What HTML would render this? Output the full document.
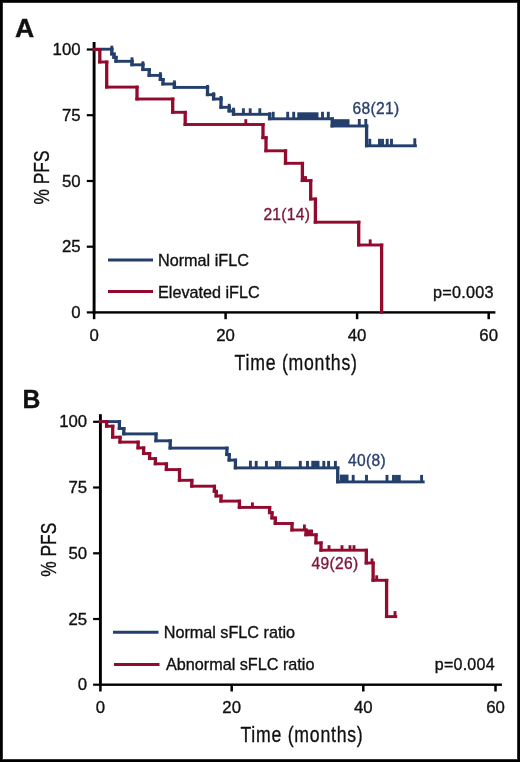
<!DOCTYPE html>
<html><head><meta charset="utf-8"><style>
html,body{margin:0;padding:0;background:#fff;}
body{width:520px;height:762px;overflow:hidden;position:relative;}
.frame{position:absolute;left:0;top:0;width:516px;height:758px;border:2px solid #000;box-shadow:inset 0 0 0 1px #333;background:#fff;}
svg{position:absolute;left:0;top:0;will-change:transform;}
text{font-family:"Liberation Sans", sans-serif;stroke-width:0.35px;}
</style></head><body>
<div class="frame"></div>
<svg width="520" height="762" viewBox="0 0 520 762">
<g fill="#000">
<rect x="92.65" y="42.00" width="2.90" height="271.60"/>
<rect x="92.65" y="311.20" width="402.75" height="2.40"/>
<rect x="86.80" y="48.40" width="7.30" height="2.20"/>
<rect x="86.80" y="114.10" width="7.30" height="2.20"/>
<rect x="86.80" y="179.90" width="7.30" height="2.20"/>
<rect x="86.80" y="245.60" width="7.30" height="2.20"/>
<rect x="86.80" y="311.30" width="7.30" height="2.20"/>
<rect x="92.85" y="312.40" width="2.50" height="6.80"/>
<rect x="224.35" y="312.40" width="2.50" height="6.80"/>
<rect x="355.85" y="312.40" width="2.50" height="6.80"/>
<rect x="487.45" y="312.40" width="2.50" height="6.80"/>
</g>
<g fill="#000">
<rect x="98.95" y="414.20" width="2.90" height="271.70"/>
<rect x="98.95" y="683.50" width="402.95" height="2.40"/>
<rect x="93.10" y="420.70" width="7.30" height="2.20"/>
<rect x="93.10" y="486.40" width="7.30" height="2.20"/>
<rect x="93.10" y="552.20" width="7.30" height="2.20"/>
<rect x="93.10" y="617.90" width="7.30" height="2.20"/>
<rect x="93.10" y="683.60" width="7.30" height="2.20"/>
<rect x="99.15" y="684.70" width="2.50" height="6.80"/>
<rect x="230.45" y="684.70" width="2.50" height="6.80"/>
<rect x="362.05" y="684.70" width="2.50" height="6.80"/>
<rect x="494.25" y="684.70" width="2.50" height="6.80"/>
</g>
<line x1="108" y1="260" x2="153" y2="260" stroke="#243f6c" stroke-width="3.0"/>
<line x1="108" y1="291.5" x2="153" y2="291.5" stroke="#920b2e" stroke-width="3.0"/>
<line x1="113" y1="632.3" x2="158.5" y2="632.3" stroke="#243f6c" stroke-width="3.0"/>
<line x1="114" y1="664.6" x2="159.5" y2="664.6" stroke="#920b2e" stroke-width="3.0"/>
<g fill="#243f6c">
<rect x="92.45" y="47.75" width="21.00" height="2.90"/><rect x="110.15" y="47.75" width="3.30" height="7.70"/><rect x="110.15" y="52.55" width="5.50" height="2.90"/><rect x="112.35" y="52.55" width="3.30" height="6.20"/><rect x="112.35" y="55.85" width="5.30" height="2.90"/><rect x="114.35" y="55.85" width="3.30" height="6.90"/><rect x="114.35" y="59.85" width="19.30" height="2.90"/><rect x="130.35" y="59.85" width="3.30" height="6.40"/><rect x="130.35" y="63.35" width="14.20" height="2.90"/><rect x="141.25" y="63.35" width="3.30" height="7.70"/><rect x="141.25" y="68.15" width="9.60" height="2.90"/><rect x="147.55" y="68.15" width="3.30" height="8.70"/><rect x="147.55" y="73.95" width="14.50" height="2.90"/><rect x="158.75" y="73.95" width="3.30" height="7.00"/><rect x="158.75" y="78.05" width="5.90" height="2.90"/><rect x="161.35" y="78.05" width="3.30" height="7.40"/><rect x="161.35" y="82.55" width="14.70" height="2.90"/><rect x="172.75" y="82.55" width="3.30" height="6.30"/><rect x="172.75" y="85.95" width="36.40" height="2.90"/><rect x="205.85" y="85.95" width="3.30" height="10.20"/><rect x="205.85" y="93.25" width="9.40" height="2.90"/><rect x="211.95" y="93.25" width="3.30" height="7.20"/><rect x="211.95" y="97.55" width="10.70" height="2.90"/><rect x="219.35" y="97.55" width="3.30" height="11.20"/><rect x="219.35" y="105.85" width="11.50" height="2.90"/><rect x="227.55" y="105.85" width="3.30" height="6.60"/><rect x="227.55" y="109.55" width="7.60" height="2.90"/><rect x="231.85" y="109.55" width="3.30" height="6.20"/><rect x="231.85" y="112.85" width="39.40" height="2.90"/><rect x="267.95" y="112.85" width="3.30" height="7.40"/><rect x="267.95" y="117.35" width="65.90" height="2.90"/><rect x="330.55" y="117.35" width="3.30" height="10.10"/><rect x="330.55" y="124.55" width="37.70" height="2.90"/><rect x="364.95" y="124.55" width="3.30" height="22.70"/><rect x="364.95" y="144.35" width="51.90" height="2.90"/>
<rect x="110.35" y="45.70" width="2.90" height="3.50"/><rect x="130.55" y="57.30" width="2.90" height="4.00"/><rect x="141.45" y="61.30" width="2.90" height="3.50"/><rect x="158.95" y="72.20" width="2.90" height="3.20"/><rect x="172.95" y="80.40" width="2.90" height="3.60"/><rect x="206.05" y="84.90" width="2.90" height="2.50"/><rect x="212.15" y="92.20" width="2.90" height="2.50"/><rect x="219.55" y="96.00" width="2.90" height="3.00"/><rect x="227.75" y="103.80" width="2.90" height="3.50"/><rect x="232.05" y="107.70" width="2.90" height="3.30"/><rect x="241.95" y="108.30" width="2.90" height="6.00"/><rect x="248.75" y="108.30" width="2.90" height="6.00"/><rect x="258.35" y="108.30" width="2.90" height="6.00"/><rect x="268.15" y="112.30" width="2.90" height="2.00"/><rect x="271.75" y="111.80" width="2.90" height="7.00"/><rect x="286.25" y="111.80" width="2.90" height="7.00"/><rect x="292.25" y="111.80" width="2.90" height="7.00"/><rect x="321.05" y="111.80" width="2.90" height="7.00"/><rect x="326.85" y="111.80" width="2.90" height="7.00"/><rect x="357.85" y="119.00" width="2.90" height="7.00"/><rect x="364.35" y="119.00" width="2.90" height="7.00"/><rect x="368.35" y="138.80" width="2.90" height="7.00"/><rect x="378.05" y="138.80" width="2.90" height="7.00"/><rect x="381.05" y="138.80" width="2.90" height="7.00"/><rect x="385.75" y="138.80" width="2.90" height="7.00"/><rect x="390.05" y="138.80" width="2.90" height="7.00"/><rect x="413.35" y="138.30" width="2.90" height="7.50"/>
<rect x="297.3" y="112.3" width="21.2" height="6.5" fill="#243f6c"/>
<rect x="332.2" y="119.2" width="17.3" height="6.8" fill="#243f6c"/>
</g>
<g fill="#920b2e">
<rect x="92.45" y="48.15" width="9.00" height="2.90"/><rect x="98.15" y="48.15" width="3.30" height="15.30"/><rect x="98.15" y="60.55" width="10.20" height="2.90"/><rect x="105.05" y="60.55" width="3.30" height="28.00"/><rect x="105.05" y="85.65" width="33.60" height="2.90"/><rect x="135.35" y="85.65" width="3.30" height="14.80"/><rect x="135.35" y="97.55" width="39.00" height="2.90"/><rect x="171.05" y="97.55" width="3.30" height="16.20"/><rect x="171.05" y="110.85" width="15.80" height="2.90"/><rect x="183.55" y="110.85" width="3.30" height="15.10"/><rect x="183.55" y="123.05" width="81.10" height="2.90"/><rect x="261.35" y="123.05" width="3.30" height="16.10"/><rect x="261.35" y="136.25" width="6.30" height="2.90"/><rect x="264.35" y="136.25" width="3.30" height="16.00"/><rect x="264.35" y="149.35" width="22.80" height="2.90"/><rect x="283.85" y="149.35" width="3.30" height="15.40"/><rect x="283.85" y="161.85" width="20.20" height="2.90"/><rect x="300.75" y="161.85" width="3.30" height="20.20"/><rect x="300.75" y="179.15" width="11.60" height="2.90"/><rect x="309.05" y="179.15" width="3.30" height="21.30"/><rect x="309.05" y="197.55" width="8.00" height="2.90"/><rect x="313.75" y="197.55" width="3.30" height="26.10"/><rect x="313.75" y="220.75" width="46.60" height="2.90"/><rect x="357.05" y="220.75" width="3.30" height="25.70"/><rect x="357.05" y="243.55" width="26.20" height="2.90"/><rect x="379.95" y="243.55" width="3.30" height="70.30"/>
<rect x="244.35" y="119.20" width="2.90" height="5.30"/><rect x="304.05" y="176.10" width="2.90" height="4.50"/><rect x="368.75" y="239.40" width="2.90" height="5.60"/>

</g>
<g fill="#243f6c">
<rect x="98.75" y="420.15" width="22.30" height="2.90"/><rect x="117.75" y="420.15" width="3.30" height="9.80"/><rect x="117.75" y="427.05" width="7.70" height="2.90"/><rect x="122.15" y="427.05" width="3.30" height="8.30"/><rect x="122.15" y="432.45" width="35.50" height="2.90"/><rect x="154.35" y="432.45" width="3.30" height="9.80"/><rect x="154.35" y="439.35" width="17.50" height="2.90"/><rect x="168.55" y="439.35" width="3.30" height="10.20"/><rect x="168.55" y="446.65" width="60.00" height="2.90"/><rect x="225.25" y="446.65" width="3.30" height="9.40"/><rect x="225.25" y="453.15" width="5.60" height="2.90"/><rect x="227.55" y="453.15" width="3.30" height="8.40"/><rect x="227.55" y="458.65" width="9.50" height="2.90"/><rect x="233.75" y="458.65" width="3.30" height="10.70"/><rect x="233.75" y="466.45" width="105.60" height="2.90"/><rect x="336.05" y="466.45" width="3.30" height="16.90"/><rect x="336.05" y="480.45" width="88.60" height="2.90"/>
<rect x="248.95" y="460.70" width="2.90" height="7.20"/><rect x="254.75" y="460.90" width="2.90" height="7.00"/><rect x="264.95" y="460.90" width="2.90" height="7.00"/><rect x="275.05" y="460.90" width="2.90" height="7.00"/><rect x="278.25" y="460.90" width="2.90" height="7.00"/><rect x="298.85" y="460.90" width="2.90" height="7.00"/><rect x="306.05" y="460.90" width="2.90" height="7.00"/><rect x="322.35" y="460.90" width="2.90" height="7.00"/><rect x="327.15" y="460.90" width="2.90" height="7.00"/><rect x="333.95" y="460.90" width="2.90" height="7.00"/><rect x="351.75" y="474.90" width="2.90" height="7.00"/><rect x="365.05" y="474.90" width="2.90" height="7.00"/><rect x="385.55" y="474.90" width="2.90" height="7.00"/><rect x="392.05" y="474.90" width="2.90" height="7.00"/><rect x="395.05" y="474.90" width="2.90" height="7.00"/><rect x="397.85" y="474.90" width="2.90" height="7.00"/><rect x="420.15" y="474.90" width="2.90" height="7.00"/>
<rect x="311.3" y="460.8" width="8.2" height="7.1" fill="#243f6c"/>
<rect x="339.8" y="474.6" width="8.7" height="7.3" fill="#243f6c"/>
</g>
<g fill="#920b2e">
<rect x="98.75" y="420.15" width="9.50" height="2.90"/><rect x="104.95" y="420.15" width="3.30" height="7.50"/><rect x="104.95" y="424.75" width="9.40" height="2.90"/><rect x="111.05" y="424.75" width="3.30" height="13.90"/><rect x="111.05" y="435.75" width="10.60" height="2.90"/><rect x="118.35" y="435.75" width="3.30" height="7.80"/><rect x="118.35" y="440.65" width="21.40" height="2.90"/><rect x="136.45" y="440.65" width="3.30" height="8.70"/><rect x="136.45" y="446.45" width="8.80" height="2.90"/><rect x="141.95" y="446.45" width="3.30" height="8.50"/><rect x="141.95" y="452.05" width="9.30" height="2.90"/><rect x="147.95" y="452.05" width="3.30" height="8.00"/><rect x="147.95" y="457.15" width="9.10" height="2.90"/><rect x="153.75" y="457.15" width="3.30" height="8.10"/><rect x="153.75" y="462.35" width="14.30" height="2.90"/><rect x="164.75" y="462.35" width="3.30" height="8.70"/><rect x="164.75" y="468.15" width="16.40" height="2.90"/><rect x="177.85" y="468.15" width="3.30" height="13.60"/><rect x="177.85" y="478.85" width="15.60" height="2.90"/><rect x="190.15" y="478.85" width="3.30" height="8.80"/><rect x="190.15" y="484.75" width="25.90" height="2.90"/><rect x="212.75" y="484.75" width="3.30" height="8.00"/><rect x="212.75" y="489.85" width="5.10" height="2.90"/><rect x="214.55" y="489.85" width="3.30" height="7.60"/><rect x="214.55" y="494.55" width="8.10" height="2.90"/><rect x="219.35" y="494.55" width="3.30" height="8.00"/><rect x="219.35" y="499.65" width="21.70" height="2.90"/><rect x="237.75" y="499.65" width="3.30" height="9.20"/><rect x="237.75" y="505.95" width="33.50" height="2.90"/><rect x="267.95" y="505.95" width="3.30" height="8.20"/><rect x="267.95" y="511.25" width="5.70" height="2.90"/><rect x="270.35" y="511.25" width="3.30" height="8.20"/><rect x="270.35" y="516.55" width="6.60" height="2.90"/><rect x="273.65" y="516.55" width="3.30" height="8.40"/><rect x="273.65" y="522.05" width="20.00" height="2.90"/><rect x="290.35" y="522.05" width="3.30" height="9.40"/><rect x="290.35" y="528.55" width="17.30" height="2.90"/><rect x="304.35" y="528.55" width="3.30" height="7.70"/><rect x="304.35" y="533.35" width="13.30" height="2.90"/><rect x="314.35" y="533.35" width="3.30" height="11.00"/><rect x="314.35" y="541.45" width="8.30" height="2.90"/><rect x="319.35" y="541.45" width="3.30" height="10.20"/><rect x="319.35" y="548.75" width="48.60" height="2.90"/><rect x="364.65" y="548.75" width="3.30" height="15.70"/><rect x="364.65" y="561.55" width="10.10" height="2.90"/><rect x="371.45" y="561.55" width="3.30" height="20.20"/><rect x="371.45" y="578.85" width="16.80" height="2.90"/><rect x="384.95" y="578.85" width="3.30" height="39.20"/><rect x="384.95" y="615.15" width="12.30" height="2.90"/>
<rect x="250.95" y="502.40" width="2.90" height="5.00"/><rect x="302.95" y="524.50" width="2.90" height="5.50"/><rect x="327.55" y="545.20" width="2.90" height="5.00"/><rect x="340.55" y="545.20" width="2.90" height="5.00"/><rect x="348.55" y="545.20" width="2.90" height="5.00"/><rect x="352.55" y="545.20" width="2.90" height="5.00"/><rect x="370.55" y="558.50" width="2.90" height="4.50"/><rect x="375.25" y="575.30" width="2.90" height="5.00"/><rect x="393.55" y="611.10" width="2.90" height="5.50"/>
<rect x="306.0" y="529.5" width="7.0" height="5.3" fill="#920b2e"/>
</g>
<text x="15.0" y="36.6" font-size="26.6" text-anchor="start" fill="#111" stroke="#111" font-weight="bold">A</text>
<text transform="translate(22.6 408.4) scale(0.93 1)" font-size="26.6" font-weight="bold" fill="#111" stroke="#111">B</text>
<text x="80.6" y="55.0" font-size="16.8" text-anchor="end" fill="#111" stroke="#111" >100</text>
<text x="80.6" y="120.7" font-size="16.8" text-anchor="end" fill="#111" stroke="#111" >75</text>
<text x="80.6" y="186.5" font-size="16.8" text-anchor="end" fill="#111" stroke="#111" >50</text>
<text x="80.6" y="252.2" font-size="16.8" text-anchor="end" fill="#111" stroke="#111" >25</text>
<text x="80.6" y="317.9" font-size="16.8" text-anchor="end" fill="#111" stroke="#111" >0</text>
<text x="87.2" y="427.3" font-size="16.8" text-anchor="end" fill="#111" stroke="#111" >100</text>
<text x="87.2" y="493.0" font-size="16.8" text-anchor="end" fill="#111" stroke="#111" >75</text>
<text x="87.2" y="558.8" font-size="16.8" text-anchor="end" fill="#111" stroke="#111" >50</text>
<text x="87.2" y="624.5" font-size="16.8" text-anchor="end" fill="#111" stroke="#111" >25</text>
<text x="87.2" y="690.2" font-size="16.8" text-anchor="end" fill="#111" stroke="#111" >0</text>
<text x="94.1" y="340.7" font-size="16.8" text-anchor="middle" fill="#111" stroke="#111" >0</text>
<text x="225.6" y="340.7" font-size="16.8" text-anchor="middle" fill="#111" stroke="#111" >20</text>
<text x="357.1" y="340.7" font-size="16.8" text-anchor="middle" fill="#111" stroke="#111" >40</text>
<text x="488.7" y="340.7" font-size="16.8" text-anchor="middle" fill="#111" stroke="#111" >60</text>
<text x="100.4" y="712.6" font-size="16.8" text-anchor="middle" fill="#111" stroke="#111" >0</text>
<text x="231.7" y="712.6" font-size="16.8" text-anchor="middle" fill="#111" stroke="#111" >20</text>
<text x="363.3" y="712.6" font-size="16.8" text-anchor="middle" fill="#111" stroke="#111" >40</text>
<text x="495.5" y="712.6" font-size="16.8" text-anchor="middle" fill="#111" stroke="#111" >60</text>
<text transform="translate(234.6 369.7) scale(0.790 1)" font-size="22.4" fill="#111" stroke="#111" letter-spacing="0.95">Time (months)</text>
<text transform="translate(240.4 741.9) scale(0.790 1)" font-size="22.4" fill="#111" stroke="#111" letter-spacing="0.95">Time (months)</text>
<text transform="translate(48.9 177.5) rotate(-90)" font-size="22.4" text-anchor="middle" fill="#111" stroke="#111" textLength="54" lengthAdjust="spacingAndGlyphs">% PFS</text>
<text transform="translate(55.7 549.7) rotate(-90)" font-size="22.4" text-anchor="middle" fill="#111" stroke="#111" textLength="54" lengthAdjust="spacingAndGlyphs">% PFS</text>
<text x="158.0" y="265.7" font-size="16.2" text-anchor="start" fill="#111" stroke="#111" >Normal iFLC</text>
<text x="158.0" y="297.8" font-size="16.2" text-anchor="start" fill="#111" stroke="#111" >Elevated iFLC</text>
<text x="163.7" y="638.0" font-size="16.2" text-anchor="start" fill="#111" stroke="#111" >Normal sFLC ratio</text>
<text x="166.0" y="670.0" font-size="16.2" text-anchor="start" fill="#111" stroke="#111" >Abnormal sFLC ratio</text>
<text x="493.8" y="297.8" font-size="16.2" text-anchor="end" fill="#111" stroke="#111" letter-spacing="0.25">p=0.003</text>
<text x="494.8" y="669.9" font-size="16.0" text-anchor="end" fill="#111" stroke="#111" letter-spacing="0.25">p=0.004</text>
<text x="352.6" y="113.6" font-size="15.6" text-anchor="start" fill="#2a406c" stroke="#2a406c" letter-spacing="0.3">68(21)</text>
<text x="263.4" y="219.7" font-size="15.6" text-anchor="start" fill="#7a1737" stroke="#7a1737" letter-spacing="0.3">21(14)</text>
<text x="348.1" y="465.8" font-size="15.6" text-anchor="start" fill="#2a406c" stroke="#2a406c" letter-spacing="0.3">40(8)</text>
<text x="311.6" y="568.8" font-size="15.6" text-anchor="start" fill="#7a1737" stroke="#7a1737" letter-spacing="0.3">49(26)</text>
</svg>
</body></html>
